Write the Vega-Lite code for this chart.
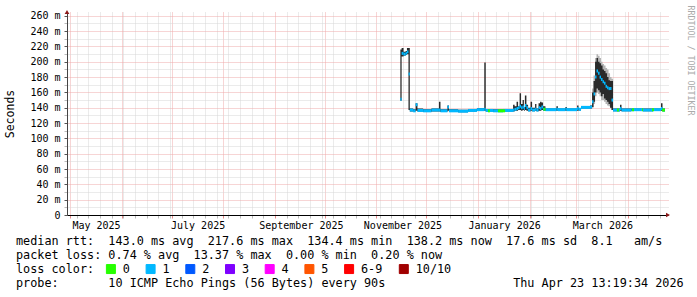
{
  "$schema": "https://vega.github.io/schema/vega-lite/v6.json",
  "width": 601,
  "height": 203,
  "autosize": {"type": "none"},
  "padding": {"left": 67, "top": 12, "right": 29, "bottom": 82},
  "background": "white",
  "config": {"view": {"stroke": null}, "font": "DejaVu Sans Mono"},
  "title": {
    "text": [
      "median rtt:\u00a0\u00a0143.0 ms avg\u00a0\u00a0217.6 ms max\u00a0\u00a0134.4 ms min\u00a0\u00a0138.2 ms now\u00a0\u00a017.6 ms sd\u00a0\u00a08.1\u00a0\u00a0\u00a0am/s",
      "packet loss: 0.74 % avg\u00a0\u00a013.37 % max\u00a0\u00a00.00 % min\u00a0\u00a00.20 % now"
    ],
    "subtitle": "probe:\u00a0\u00a0\u00a0\u00a0\u00a0\u00a0\u00a010 ICMP Echo Pings (56 Bytes) every 90s\u00a0\u00a0\u00a0\u00a0\u00a0\u00a0\u00a0\u00a0\u00a0\u00a0\u00a0\u00a0\u00a0\u00a0\u00a0\u00a0\u00a0\u00a0Thu Apr 23 13:19:34 2026",
    "orient": "bottom",
    "anchor": "start",
    "frame": "group",
    "dx": -51,
    "offset": -40,
    "font": "DejaVu Sans Mono",
    "fontSize": 11.8,
    "fontWeight": "normal",
    "color": "black",
    "lineHeight": 14,
    "baseline": "top",
    "subtitleFont": "DejaVu Sans Mono",
    "subtitleFontSize": 11.8,
    "subtitleFontWeight": "normal",
    "subtitleColor": "black",
    "subtitleLineHeight": 14,
    "subtitlePadding": 16
  },
  "datasets": {
    "ping": [
      {"t": "2025-11-15T08:00", "med": 151, "lo": 149, "hi": 216},
      {"t": "2025-11-16T02:00", "med": 211, "lo": 207, "hi": 218},
      {"t": "2025-11-17T06:00", "med": 210, "lo": 208, "hi": 213},
      {"t": "2025-11-18T12:00", "med": 211, "lo": 209, "hi": 214},
      {"t": "2025-11-19T07:00", "med": 213, "lo": 210, "hi": 218},
      {"t": "2025-11-20T05:00", "med": 184, "lo": 137, "hi": 218},
      {"t": "2025-11-21T00:00", "med": 137, "lo": 135, "hi": 139},
      {"t": "2025-11-23T00:00", "med": 136, "lo": 135, "hi": 138},
      {"t": "2025-11-24T12:00", "med": 144, "lo": 136, "hi": 146},
      {"t": "2025-11-25T14:00", "med": 136.5, "lo": 135, "hi": 139},
      {"t": "2025-11-29T00:00", "med": 136, "lo": 134.5, "hi": 138},
      {"t": "2025-12-04T00:00", "med": 137, "lo": 135, "hi": 139},
      {"t": "2025-12-08T12:00", "med": 137, "lo": 135, "hi": 148},
      {"t": "2025-12-09T10:00", "med": 136, "lo": 134.5, "hi": 138},
      {"t": "2025-12-13T14:00", "med": 141, "lo": 136, "hi": 143},
      {"t": "2025-12-14T12:00", "med": 136, "lo": 134.5, "hi": 138},
      {"t": "2025-12-20T00:00", "med": 135.5, "lo": 134, "hi": 137.5},
      {"t": "2025-12-26T00:00", "med": 136.5, "lo": 135, "hi": 138},
      {"t": "2025-12-31T07:00", "med": 137.5, "lo": 136, "hi": 139.5},
      {"t": "2026-01-04T17:00", "med": 138, "lo": 136, "hi": 199},
      {"t": "2026-01-05T14:00", "med": 136.5, "lo": 135, "hi": 138.5},
      {"t": "2026-01-10T00:00", "med": 136, "lo": 134.5, "hi": 138},
      {"t": "2026-01-16T00:00", "med": 136.5, "lo": 135, "hi": 138.5},
      {"t": "2026-01-22T00:00", "med": 137, "lo": 135, "hi": 144},
      {"t": "2026-01-22T22:00", "med": 138, "lo": 136, "hi": 142},
      {"t": "2026-01-24T02:00", "med": 139, "lo": 136, "hi": 148},
      {"t": "2026-01-25T00:00", "med": 140, "lo": 137, "hi": 142},
      {"t": "2026-01-25T22:00", "med": 142, "lo": 137, "hi": 159},
      {"t": "2026-01-26T19:00", "med": 140, "lo": 136, "hi": 145},
      {"t": "2026-01-27T17:00", "med": 141, "lo": 137, "hi": 150},
      {"t": "2026-01-28T12:00", "med": 139, "lo": 136, "hi": 141},
      {"t": "2026-01-29T02:00", "med": 143, "lo": 137, "hi": 156},
      {"t": "2026-01-30T00:00", "med": 140, "lo": 136, "hi": 144},
      {"t": "2026-01-31T00:00", "med": 137, "lo": 135.5, "hi": 140},
      {"t": "2026-02-01T12:00", "med": 139, "lo": 136, "hi": 148},
      {"t": "2026-02-02T10:00", "med": 137, "lo": 135.5, "hi": 140},
      {"t": "2026-02-04T05:00", "med": 138, "lo": 136, "hi": 145},
      {"t": "2026-02-05T00:00", "med": 137, "lo": 135.5, "hi": 139},
      {"t": "2026-02-06T07:00", "med": 140, "lo": 136, "hi": 146},
      {"t": "2026-02-07T05:00", "med": 139, "lo": 136, "hi": 148},
      {"t": "2026-02-08T00:00", "med": 141, "lo": 137, "hi": 147},
      {"t": "2026-02-09T00:00", "med": 138, "lo": 136, "hi": 142},
      {"t": "2026-02-10T10:00", "med": 137.5, "lo": 136, "hi": 139},
      {"t": "2026-02-17T00:00", "med": 138, "lo": 136, "hi": 142},
      {"t": "2026-02-17T22:00", "med": 137.5, "lo": 136, "hi": 139},
      {"t": "2026-02-22T10:00", "med": 138, "lo": 136, "hi": 141},
      {"t": "2026-02-23T07:00", "med": 137.5, "lo": 136, "hi": 139},
      {"t": "2026-03-01T10:00", "med": 139, "lo": 136, "hi": 143},
      {"t": "2026-03-02T07:00", "med": 138, "lo": 136.5, "hi": 139.5},
      {"t": "2026-03-03T19:00", "med": 140.5, "lo": 139, "hi": 142},
      {"t": "2026-03-09T05:00", "med": 141, "lo": 139, "hi": 143},
      {"t": "2026-03-10T10:00", "med": 148, "lo": 141, "hi": 160},
      {"t": "2026-03-11T07:00", "med": 158, "lo": 148, "hi": 175},
      {"t": "2026-03-12T05:00", "med": 180, "lo": 160, "hi": 200},
      {"t": "2026-03-13T02:00", "med": 188, "lo": 165, "hi": 205},
      {"t": "2026-03-14T00:00", "med": 185, "lo": 163, "hi": 200},
      {"t": "2026-03-14T22:00", "med": 180, "lo": 160, "hi": 198},
      {"t": "2026-03-15T19:00", "med": 177, "lo": 155, "hi": 195},
      {"t": "2026-03-16T17:00", "med": 174, "lo": 158, "hi": 190},
      {"t": "2026-03-17T14:00", "med": 172, "lo": 152, "hi": 188},
      {"t": "2026-03-18T12:00", "med": 168, "lo": 150, "hi": 185},
      {"t": "2026-03-19T10:00", "med": 166, "lo": 148, "hi": 180},
      {"t": "2026-03-20T07:00", "med": 165, "lo": 145, "hi": 176},
      {"t": "2026-03-21T05:00", "med": 165, "lo": 140, "hi": 175},
      {"t": "2026-03-22T02:00", "med": 150, "lo": 137, "hi": 175},
      {"t": "2026-03-23T00:00", "med": 137, "lo": 135.5, "hi": 139},
      {"t": "2026-03-27T05:00", "med": 139, "lo": 136, "hi": 144},
      {"t": "2026-03-28T02:00", "med": 137, "lo": 135.5, "hi": 139},
      {"t": "2026-04-03T00:00", "med": 137.5, "lo": 136, "hi": 139},
      {"t": "2026-04-10T00:00", "med": 137, "lo": 135.5, "hi": 139},
      {"t": "2026-04-16T00:00", "med": 137.5, "lo": 136, "hi": 139},
      {"t": "2026-04-20T19:00", "med": 139, "lo": 136, "hi": 146},
      {"t": "2026-04-21T17:00", "med": 137, "lo": 135.5, "hi": 139},
      {"t": "2026-04-23T05:00", "med": 137, "lo": 135.5, "hi": 139}
    ],
    "outer": [
      {"t": "2026-03-10T10:00", "lo": 140, "hi": 165},
      {"t": "2026-03-11T07:00", "lo": 145, "hi": 182},
      {"t": "2026-03-12T05:00", "lo": 155, "hi": 205},
      {"t": "2026-03-13T02:00", "lo": 160, "hi": 210},
      {"t": "2026-03-14T00:00", "lo": 158, "hi": 208},
      {"t": "2026-03-14T22:00", "lo": 155, "hi": 205},
      {"t": "2026-03-15T19:00", "lo": 150, "hi": 200},
      {"t": "2026-03-16T17:00", "lo": 150, "hi": 197},
      {"t": "2026-03-17T14:00", "lo": 148, "hi": 195},
      {"t": "2026-03-18T12:00", "lo": 145, "hi": 192},
      {"t": "2026-03-19T10:00", "lo": 143, "hi": 190},
      {"t": "2026-03-20T07:00", "lo": 142, "hi": 185},
      {"t": "2026-03-21T05:00", "lo": 140, "hi": 180},
      {"t": "2026-03-22T02:00", "lo": 137, "hi": 178},
      {"t": "2026-03-23T00:00", "lo": 137, "hi": 137}
    ],
    "green": [
      {"t0": "2026-01-06T22:00", "t1": "2026-01-08T02:00", "v": 136, "loss": "0"},
      {"t0": "2026-01-12T22:00", "t1": "2026-01-17T05:00", "v": 136, "loss": "0"},
      {"t0": "2026-02-09T05:00", "t1": "2026-02-10T10:00", "v": 138, "loss": "0"},
      {"t0": "2026-03-25T10:00", "t1": "2026-03-26T12:00", "v": 137, "loss": "0"},
      {"t0": "2026-04-03T10:00", "t1": "2026-04-04T14:00", "v": 137.5, "loss": "0"},
      {"t0": "2026-04-09T10:00", "t1": "2026-04-10T00:00", "v": 137.5, "loss": "0"},
      {"t0": "2026-04-15T10:00", "t1": "2026-04-16T14:00", "v": 137.5, "loss": "0"},
      {"t0": "2026-04-21T10:00", "t1": "2026-04-23T05:00", "v": 137, "loss": "0"}
    ]
  },
  "resolve": {"axis": {"x": "independent", "y": "independent"}},
  "layer": [
    {
      "data": {"name": "outer"},
      "mark": {"type": "area", "interpolate": "step-after", "color": "#b4b4b4"},
      "encoding": {
        "x": {
          "field": "t", "type": "temporal",
          "scale": {"domain": [{"year": 2025, "month": 4, "date": 29, "hours": 5}, {"year": 2026, "month": 4, "date": 25}]},
          "axis": {
            "orient": "bottom",
            "title": null,
            "values": [
              {"year": 2025, "month": 5, "date": 1}, {"year": 2025, "month": 5, "date": 5}, {"year": 2025, "month": 5, "date": 12}, {"year": 2025, "month": 5, "date": 19}, {"year": 2025, "month": 5, "date": 26},
              {"year": 2025, "month": 6, "date": 1}, {"year": 2025, "month": 6, "date": 2}, {"year": 2025, "month": 6, "date": 9}, {"year": 2025, "month": 6, "date": 16}, {"year": 2025, "month": 6, "date": 23}, {"year": 2025, "month": 6, "date": 30},
              {"year": 2025, "month": 7, "date": 1}, {"year": 2025, "month": 7, "date": 7}, {"year": 2025, "month": 7, "date": 14}, {"year": 2025, "month": 7, "date": 21}, {"year": 2025, "month": 7, "date": 28},
              {"year": 2025, "month": 8, "date": 1}, {"year": 2025, "month": 8, "date": 4}, {"year": 2025, "month": 8, "date": 11}, {"year": 2025, "month": 8, "date": 18}, {"year": 2025, "month": 8, "date": 25},
              {"year": 2025, "month": 9, "date": 1}, {"year": 2025, "month": 9, "date": 8}, {"year": 2025, "month": 9, "date": 15}, {"year": 2025, "month": 9, "date": 22}, {"year": 2025, "month": 9, "date": 29},
              {"year": 2025, "month": 10, "date": 1}, {"year": 2025, "month": 10, "date": 6}, {"year": 2025, "month": 10, "date": 13}, {"year": 2025, "month": 10, "date": 20}, {"year": 2025, "month": 10, "date": 27},
              {"year": 2025, "month": 11, "date": 1}, {"year": 2025, "month": 11, "date": 3}, {"year": 2025, "month": 11, "date": 10}, {"year": 2025, "month": 11, "date": 17}, {"year": 2025, "month": 11, "date": 24},
              {"year": 2025, "month": 12, "date": 1}, {"year": 2025, "month": 12, "date": 8}, {"year": 2025, "month": 12, "date": 15}, {"year": 2025, "month": 12, "date": 22}, {"year": 2025, "month": 12, "date": 29},
              {"year": 2026, "month": 1, "date": 1}, {"year": 2026, "month": 1, "date": 5}, {"year": 2026, "month": 1, "date": 12}, {"year": 2026, "month": 1, "date": 19}, {"year": 2026, "month": 1, "date": 26},
              {"year": 2026, "month": 2, "date": 1}, {"year": 2026, "month": 2, "date": 2}, {"year": 2026, "month": 2, "date": 9}, {"year": 2026, "month": 2, "date": 16}, {"year": 2026, "month": 2, "date": 23},
              {"year": 2026, "month": 3, "date": 1}, {"year": 2026, "month": 3, "date": 2}, {"year": 2026, "month": 3, "date": 9}, {"year": 2026, "month": 3, "date": 16}, {"year": 2026, "month": 3, "date": 23}, {"year": 2026, "month": 3, "date": 30},
              {"year": 2026, "month": 4, "date": 1}, {"year": 2026, "month": 4, "date": 6}, {"year": 2026, "month": 4, "date": 13}, {"year": 2026, "month": 4, "date": 20}
            ],
            "labels": false,
            "tickSize": 3,
            "tickColor": {"condition": {"test": "date(datum.value) == 1", "value": "#e88a8a"}, "value": "#bbbbbb"},
            "gridColor": {"condition": {"test": "date(datum.value) == 1", "value": "#eeaaaa"}, "value": "#d6d6d6"},
            "gridDash": [1, 1],
            "gridOpacity": 1,
            "domainColor": "black"
          }
        },
        "y": {
          "field": "lo", "type": "quantitative",
          "scale": {"domain": [0, 265], "nice": false, "zero": false},
          "axis": {
            "orient": "left",
            "values": [0, 10, 20, 30, 40, 50, 60, 70, 80, 90, 100, 110, 120, 130, 140, 150, 160, 170, 180, 190, 200, 210, 220, 230, 240, 250, 260],
            "title": "Seconds",
            "titleFont": "DejaVu Sans Mono",
            "titleFontSize": 11.5,
            "titleFontWeight": "normal",
            "titleColor": "black",
            "titleAngle": -90,
            "titleX": -57,
            "titleY": 101.5,
            "titleAlign": "center",
            "titleBaseline": "middle",
            "labelExpr": "datum.value % 20 == 0 ? (datum.value == 0 ? '0' : datum.value + ' m') : ''",
            "labelFont": "DejaVu Sans Mono",
            "labelFontSize": 10,
            "labelColor": "black",
            "labelPadding": 4,
            "labelOverlap": false,
            "labelBound": false,
            "labelFlush": false,
            "tickSize": 3,
            "tickColor": {"condition": {"test": "datum.value % 20 == 0", "value": "#555555"}, "value": "#bbbbbb"},
            "gridColor": {"condition": {"test": "datum.value % 20 == 0", "value": "#eeaaaa"}, "value": "#d6d6d6"},
            "gridDash": [1, 1],
            "gridOpacity": 1,
            "domainColor": "#444444"
          }
        },
        "y2": {"field": "hi"}
      }
    },
    {
      "data": {"name": "ping"},
      "mark": {"type": "area", "interpolate": "step-after", "color": "#2a2a2a"},
      "encoding": {
        "x": {
          "field": "t", "type": "temporal",
          "axis": {
            "orient": "bottom",
            "title": null,
            "values": [
              {"year": 2025, "month": 5, "date": 1}, {"year": 2025, "month": 7, "date": 1}, {"year": 2025, "month": 9, "date": 1},
              {"year": 2025, "month": 11, "date": 1}, {"year": 2026, "month": 1, "date": 1}, {"year": 2026, "month": 3, "date": 1}
            ],
            "format": "%B %Y",
            "labelOffset": 26,
            "labelAlign": "center",
            "labelFont": "DejaVu Sans Mono",
            "labelFontSize": 10,
            "labelColor": "black",
            "labelPadding": 5,
            "labelOverlap": false,
            "labelBound": false,
            "labelFlush": false,
            "ticks": false,
            "domain": false,
            "grid": false
          }
        },
        "y": {"field": "lo", "type": "quantitative", "scale": {"domain": [0, 265], "nice": false, "zero": false}, "axis": null},
        "y2": {"field": "hi"}
      }
    },
    {
      "data": {"name": "ping"},
      "transform": [{"window": [{"op": "lead", "field": "t", "as": "t1"}], "sort": [{"field": "t"}]}],
      "mark": {"type": "rule", "color": "#00b8ff", "strokeWidth": 3, "strokeCap": "butt"},
      "encoding": {
        "x": {"field": "t", "type": "temporal", "axis": null},
        "x2": {"field": "t1"},
        "y": {
          "field": "med", "type": "quantitative",
          "scale": {"domain": [0, 265], "nice": false, "zero": false},
          "axis": {
            "orient": "right",
            "title": "RRDTOOL / TOBI OETIKER",
            "titleFont": "DejaVu Sans Mono",
            "titleFontSize": 8.3,
            "titleFontWeight": "normal",
            "titleColor": "#aaaaaa",
            "titleAngle": 90,
            "titleX": 21,
            "titleY": 48,
            "titleAlign": "center",
            "titleBaseline": "middle",
            "labels": false,
            "ticks": false,
            "domain": false,
            "grid": false
          }
        }
      }
    },
    {
      "data": {"name": "green"},
      "mark": {"type": "rule", "strokeWidth": 3, "strokeCap": "butt"},
      "encoding": {
        "x": {"field": "t0", "type": "temporal", "axis": null},
        "x2": {"field": "t1"},
        "y": {"field": "v", "type": "quantitative", "scale": {"domain": [0, 265], "nice": false, "zero": false}, "axis": null},
        "color": {
          "field": "loss", "type": "nominal",
          "scale": {
            "domain": ["0", "1", "2", "3", "4", "5", "6-9", "10/10"],
            "range": ["#26ff00", "#00b8ff", "#0059ff", "#7e00ff", "#ff00ff", "#ff5500", "#ff0000", "#a10000"]
          },
          "legend": {
            "orient": "none",
            "legendX": -51,
            "legendY": 251,
            "direction": "horizontal",
            "columns": 8,
            "title": "loss color:",
            "titleOrient": "left",
            "titleFont": "DejaVu Sans Mono",
            "titleFontSize": 11.8,
            "titleFontWeight": "normal",
            "titleColor": "black",
            "titlePadding": 10,
            "labelFont": "DejaVu Sans Mono",
            "labelFontSize": 11.8,
            "labelColor": "black",
            "labelOffset": 6,
            "columnPadding": 13.7,
            "symbolType": "square",
            "symbolSize": 81,
            "symbolStrokeColor": "black",
            "symbolStrokeWidth": 1,
            "encode": {
              "symbols": {
                "update": {
                  "fill": {"scale": "color", "field": "value"},
                  "stroke": {"value": "black"},
                  "strokeWidth": {"value": 1},
                  "opacity": {"value": 1}
                }
              }
            }
          }
        }
      }
    },
    {
      "data": {"values": [{}]},
      "mark": {"type": "point", "shape": "triangle-right", "filled": true, "size": 22, "color": "#8b1a1a", "opacity": 1},
      "encoding": {
        "x": {"datum": {"year": 2026, "month": 4, "date": 25}, "type": "temporal", "axis": null},
        "y": {"datum": 0, "type": "quantitative", "axis": null}
      }
    },
    {
      "data": {"values": [{}]},
      "mark": {"type": "point", "shape": "triangle-up", "filled": true, "size": 22, "color": "#8b1a1a", "opacity": 1},
      "encoding": {
        "x": {"datum": {"year": 2025, "month": 4, "date": 29, "hours": 5}, "type": "temporal", "axis": null},
        "y": {"datum": 265, "type": "quantitative", "axis": null}
      }
    }
  ]
}
